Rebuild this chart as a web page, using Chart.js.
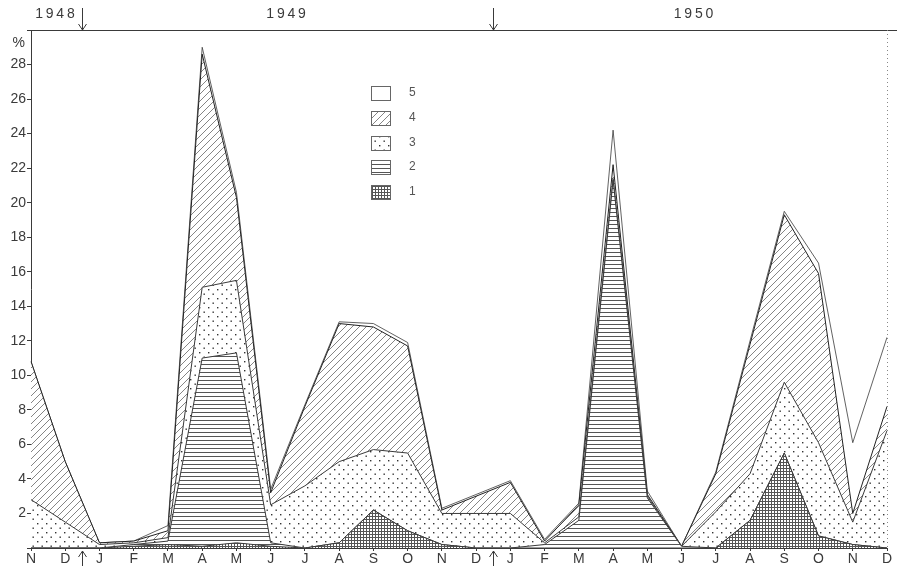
<!DOCTYPE html>
<html>
<head>
<meta charset="utf-8">
<script src="https://cdn.jsdelivr.net/npm/chart.js@4.4.1/dist/chart.umd.min.js"></script>
<style>
  html, body { margin: 0; padding: 0; background: #fff; }
  #wrap { width: 897px; height: 566px; position: relative; }
</style>
</head>
<body>
<div id="wrap"><canvas id="chart"></canvas></div>
<script>
// ─── Data ───────────────────────────────────────────────────

const months = ['N', 'D', 'J', 'F', 'M', 'A', 'M', 'J', 'J', 'A', 'S', 'O', 'N',
                'D', 'J', 'F', 'M', 'A', 'M', 'J', 'J', 'A', 'S', 'O', 'N', 'D'];
const years = ['1948', '1949', '1950'];
const yearBreaks = [1.5, 13.5];          // between D and J
const seriesNames = ['1', '2', '3', '4', '5'];

// values of each group (stacked, bottom to top), in %
const group1 = [0, 0, 0, 0.1, 0.2, 0.1, 0.3, 0.1, 0, 0.3, 2.2, 1.0, 0.2,
                0, 0, 0, 0, 0, 0, 0, 0, 1.6, 5.5, 0.7, 0.2, 0];
const group2 = [0, 0, 0, 0.1, 0.2, 10.9, 11.0, 0.2, 0, 0, 0, 0, 0,
                0, 0, 0.2, 1.6, 21.3, 2.9, 0.1, 0, 0, 0, 0, 0, 0];
const group3 = [2.8, 1.5, 0.2, 0.1, 0.2, 4.1, 4.2, 2.2, 3.6, 4.7, 3.5, 4.5, 1.8,
                2.0, 2.0, 0.1, 0.2, 0.1, 0.1, 0, 2.1, 2.7, 4.1, 5.4, 1.3, 6.8];
const group4 = [8.0, 3.5, 0.1, 0.1, 0.4, 13.5, 4.8, 0.7, 4.6, 8.0, 7.1, 6.2, 0.2,
                1.0, 1.8, 0.1, 0.7, 0.8, 0.1, 0, 2.2, 7.5, 9.7, 9.8, 0.5, 1.4];
const group5 = [0, 0, 0, 0, 0.3, 0.4, 0.3, 0.2, 0.1, 0.1, 0.2, 0.2, 0.1,
                0.1, 0.1, 0.1, 0.1, 2.0, 0.2, 0, 0.1, 0.2, 0.2, 0.6, 4.1, 4.0];

const INK = '#3a3a3a';
const FONT = "'Liberation Sans', 'DejaVu Sans', sans-serif";

// ─── Patterns ───────────────────────────────────────────────

const canvas = document.getElementById('chart');
const ctx = canvas.getContext('2d');

function makePattern(w, h, draw) {
  const c = document.createElement('canvas');
  c.width = w;
  c.height = h;
  const g = c.getContext('2d');
  g.fillStyle = '#fff';
  g.fillRect(0, 0, w, h);
  draw(g);
  return ctx.createPattern(c, 'repeat');
}

const patCross = makePattern(3, 3, g => {
  g.fillStyle = '#555';
  g.fillRect(0, 0, 3, 1);
  g.fillRect(0, 0, 1, 3);
});

const patHoriz = makePattern(4, 4, g => {
  g.fillStyle = '#555';
  g.fillRect(0, 0, 4, 1);
});

const patDots = makePattern(9, 9, g => {
  g.fillStyle = '#333';
  g.fillRect(1, 1, 1.4, 1.4);
  g.fillRect(5.5, 5.5, 1.4, 1.4);
});

const patDiag = makePattern(7, 7, g => {
  g.strokeStyle = '#666';
  g.lineWidth = 0.8;
  g.beginPath();
  g.moveTo(0, 7); g.lineTo(7, 0);
  g.moveTo(-1, 1); g.lineTo(1, -1);
  g.moveTo(6, 8); g.lineTo(8, 6);
  g.stroke();
});

const fills = [patCross, patHoriz, patDots, patDiag, '#fff'];

// ─── Decorations ────────────────────────────────────────────

function arrow(g, x, y0, y1) {
  const dir = y1 > y0 ? 1 : -1;
  g.beginPath();
  g.moveTo(x, y0); g.lineTo(x, y1);
  g.moveTo(x - 4, y1 - dir * 6); g.lineTo(x, y1); g.lineTo(x + 4, y1 - dir * 6);
  g.stroke();
}

const decorations = {
  id: 'decorations',
  afterDraw(chart) {
    const g = chart.ctx;
    const area = chart.chartArea;
    const xs = chart.scales.x;
    g.save();
    g.strokeStyle = INK;
    g.fillStyle = INK;
    g.lineWidth = 1;

    // top frame line
    g.beginPath();
    g.moveTo(area.left, area.top + 0.5);
    g.lineTo(chart.width, area.top + 0.5);
    g.stroke();

    // faint right edge
    g.save();
    g.setLineDash([1, 3]);
    g.strokeStyle = '#888';
    g.beginPath();
    g.moveTo(area.right + 0.5, area.top);
    g.lineTo(area.right + 0.5, area.bottom);
    g.stroke();
    g.restore();

    // year markers
    yearBreaks.forEach(b => {
      const x = Math.round(xs.getPixelForValue(b)) + 0.5;
      arrow(g, x, 8, area.top);
      arrow(g, x, chart.height, area.bottom + 3);
    });

    g.font = `14px ${FONT}`;
    g.textBaseline = 'middle';
    g.textAlign = 'center';
    const yearPos = [0.7, 7.45, 19.35];
    years.forEach((yr, i) => {
      g.fillText(yr.split('').join('\u2009'), xs.getPixelForValue(yearPos[i]), 14);
    });

    // unit label
    g.textAlign = 'right';
    g.fillText('%', area.left - 6, 43);

    // legend (top to bottom: 5 .. 1)
    const lx = 371, lw = 19, lh = 14;
    const ly = [86, 111, 136, 160, 185];
    g.textAlign = 'left';
    g.font = `12px ${FONT}`;
    for (let k = 0; k < 5; k++) {
      const idx = 4 - k;
      g.fillStyle = fills[idx];
      g.fillRect(lx, ly[k], lw, lh);
      g.strokeStyle = '#666';
      g.strokeRect(lx + 0.5, ly[k] + 0.5, lw, lh);
      g.fillStyle = '#555';
      g.fillText(seriesNames[idx], lx + 38, ly[k] + lh / 2);
    }
    g.restore();
  },
};

// ─── Chart ──────────────────────────────────────────────────

const groups = [group1, group2, group3, group4, group5];

new Chart(canvas, {
  type: 'line',
  data: {
    labels: months,
    datasets: groups.map((vals, i) => ({
      label: seriesNames[i],
      data: vals,
      fill: i === 0 ? 'origin' : '-1',
      backgroundColor: fills[i],
      borderColor: i === 3 ? '#222' : INK,
      borderWidth: i === 4 ? 0.8 : 1,
      pointRadius: 0,
      tension: 0,
    })),
  },
  options: {
    responsive: true,
    maintainAspectRatio: false,
    animation: false,
    layout: { padding: { top: 30, right: 10, left: 0, bottom: 0 } },
    plugins: {
      legend: { display: false },
      tooltip: { enabled: false },
    },
    scales: {
      x: {
        offset: false,
        grid: { drawOnChartArea: false, tickLength: 3, color: INK },
        border: { color: INK },
        ticks: {
          color: INK,
          font: { family: FONT, size: 14 },
          padding: 0,
          maxRotation: 0,
          autoSkip: false,
        },
        afterFit: s => { s.height = 18; },
      },
      y: {
        stacked: true,
        min: 0,
        max: 30,
        grid: { drawOnChartArea: false, tickLength: 4, color: INK },
        border: { color: INK },
        ticks: {
          stepSize: 2,
          color: INK,
          padding: 1,
          font: { family: FONT, size: 14 },
          callback: v => (v === 0 || v === 30) ? '' : v,
        },
        afterFit: s => { s.width = 31; },
      },
    },
  },
  plugins: [decorations],
});
</script>
</body>
</html>
